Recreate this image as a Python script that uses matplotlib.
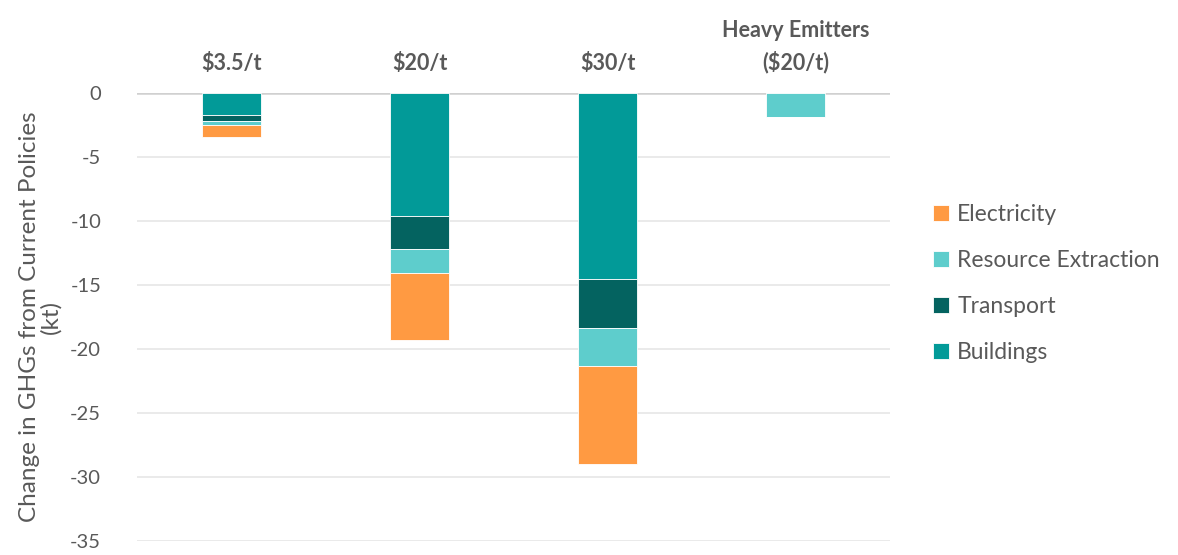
import numpy as np
import matplotlib
matplotlib.use("Agg")
from matplotlib import pyplot as plt

plt.rcParams['font.family'] = ['Lato', 'DejaVu Sans']
plt.rcParams['axes.unicode_minus'] = False

# scenarios and sector reductions (kt, negative = reduction)
scenarios = ["$3.5/t", "$20/t", "$30/t", "Heavy Emitters\n($20/t)"]
buildings = [-1.7, -9.6, -14.55, 0.0]
transport = [-0.45, -2.6, -3.8, 0.0]
resource_extraction = [-0.35, -1.9, -2.95, -1.9]
electricity = [-0.9, -5.2, -7.7, 0.0]

sectors = ["Buildings", "Transport", "Resource Extraction", "Electricity"]
colors = ["#029a98", "#046360", "#5ecdcc", "#ff9a42"]
series = [buildings, transport, resource_extraction, electricity]

grey = "#595959"

fig = plt.figure(figsize=(11.78, 5.55), dpi=100)
ax = fig.add_axes([0.1165, 0.0252, 0.639, 0.8072])

x = np.arange(len(scenarios))
bottom = np.zeros(len(scenarios))
handles = []
for vals, name, c in zip(series, sectors, colors):
    vals = np.array(vals)
    h = ax.bar(x, vals, 0.313, bottom=bottom, color=c, edgecolor="white",
               linewidth=0.6, label=name, zorder=3)
    handles.append(h)
    bottom = bottom + vals

ax.set_xlim(-0.5, 3.5)
ax.set_ylim(-35, 0)
ax.set_yticks(np.arange(-35, 1, 5))
ax.yaxis.grid(True, color="#e6e6e6", linewidth=1.2, zorder=0)
ax.axhline(0, color="#d0d0d0", linewidth=1.8, zorder=2)
for s in ax.spines.values():
    s.set_visible(False)

ax.xaxis.tick_top()
ax.set_xticks(x)
ax.set_xticklabels(scenarios, fontsize=15.5, fontweight="bold", color=grey,
                   linespacing=1.55)
ax.tick_params(axis="x", length=0, pad=14)
ax.tick_params(axis="y", length=0, labelsize=14.5, labelcolor=grey, pad=26)

ax.set_ylabel("Change in GHGs from Current Policies\n(kt)", fontsize=17.5,
              color=grey, labelpad=6, linespacing=1.0)

leg = ax.legend(handles[::-1], sectors[::-1], loc="center left",
                bbox_to_anchor=(1.03, 0.575), frameon=False, fontsize=16.5,
                handlelength=0.7, handleheight=0.7, handletextpad=0.35,
                labelspacing=1.1)
for t in leg.get_texts():
    t.set_color(grey)

fig.savefig("out.png", dpi=100)
